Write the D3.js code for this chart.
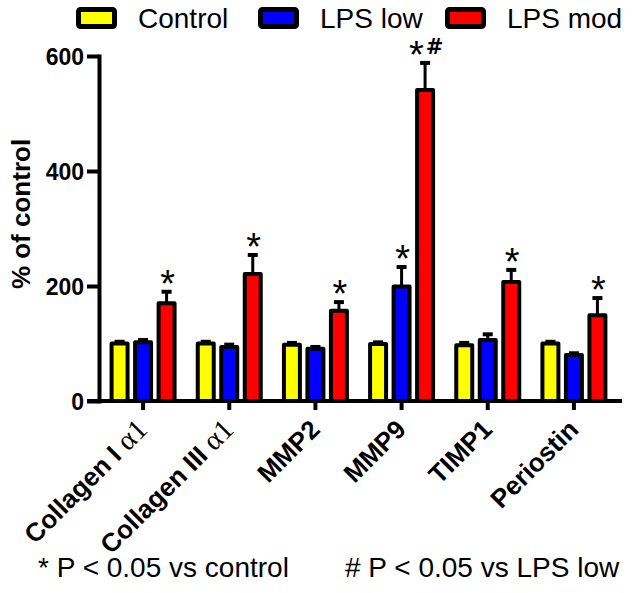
<!DOCTYPE html>
<html>
<head>
<meta charset="utf-8">
<script src="https://cdnjs.cloudflare.com/ajax/libs/d3/7.8.5/d3.min.js"></script>
<style>
  html, body { margin: 0; padding: 0; background: #fff; }
  svg { display: block; }
</style>
</head>
<body>
<svg id="chart" width="633" height="593"></svg>
<script>
// ---- data ----
const categories = ["Collagen I α1", "Collagen III α1", "MMP2", "MMP9", "TIMP1", "Periostin"];
const seriesNames = ["Control", "LPS low", "LPS mod"];
const seriesColors = ["#ffff00", "#0000ff", "#ff0000"];
const controlValues = [100, 100, 98, 99, 97, 100];
const controlErrors = [3, 3, 3, 3, 4, 3];
const lpsLowValues = [102, 94, 91, 199, 106, 80];
const lpsLowErrors = [4, 4, 3, 34, 10, 3];
const lpsModValues = [170, 221, 157, 541, 207, 149];
const lpsModErrors = [20, 33, 15, 47, 21, 30];
const lpsLowSig = ["", "", "", "*", "", ""];
const lpsModSig = ["*", "*", "*", "*#", "*", "*"];
const yTicks = [0, 200, 400, 600];
const yTitle = "% of control";
const footnotes = ["* P < 0.05 vs control", "# P < 0.05 vs LPS low"];

const seriesValues = [controlValues, lpsLowValues, lpsModValues];
const seriesErrors = [controlErrors, lpsLowErrors, lpsModErrors];
const seriesSig = [categories.map(() => ""), lpsLowSig, lpsModSig];

const rows = [];
categories.forEach((c, i) => {
  seriesNames.forEach((s, j) => {
    rows.push({cat: c, series: s, color: seriesColors[j],
               value: seriesValues[j][i], err: seriesErrors[j][i], sig: seriesSig[j][i]});
  });
});

// ---- layout ----
const svg = d3.select("#chart");
const axisX = 99;
const y = d3.scaleLinear().domain([0, 600]).range([401, 56]);
const x0 = d3.scaleBand().domain(categories).range([100, 617]).padding(0);
const x1 = d3.scaleBand().domain(seriesNames).range([-35.25, 35.25]).paddingInner(0.32).paddingOuter(0.16);
const cx = d => x0(d.cat) + x0.bandwidth() / 2 + x1(d.series) + x1.bandwidth() / 2;

// bars
svg.append("g").selectAll("rect").data(rows).join("rect")
  .attr("x", d => cx(d) - x1.bandwidth() / 2)
  .attr("width", x1.bandwidth())
  .attr("y", d => y(d.value))
  .attr("height", d => y(0) - y(d.value))
  .attr("fill", d => d.color)
  .attr("stroke", "#000")
  .attr("stroke-width", 4)
  .attr("stroke-linejoin", "round");

// error bars
const eg = svg.append("g");
eg.selectAll("line.stem").data(rows).join("line").attr("class", "stem")
  .attr("x1", cx).attr("x2", cx)
  .attr("y1", d => y(d.value)).attr("y2", d => y(d.value + d.err))
  .attr("stroke", "#000").attr("stroke-width", 3);
eg.selectAll("line.cap").data(rows).join("line").attr("class", "cap")
  .attr("x1", d => cx(d) - 5).attr("x2", d => cx(d) + 5)
  .attr("y1", d => y(d.value + d.err)).attr("y2", d => y(d.value + d.err))
  .attr("stroke", "#000").attr("stroke-width", 4);

// significance marks
const sg = svg.append("g").selectAll("text").data(rows.filter(d => d.sig)).join("text")
  .attr("x", d => cx(d) + 1)
  .attr("y", d => y(d.value + d.err) + 5)
  .attr("text-anchor", "middle");
sg.each(function(d) {
  const t = d3.select(this);
  let first = true;
  for (const ch of d.sig) {
    const ts = t.append("tspan").text(ch);
    if (ch === "*") {
      ts.attr("font-family", "Liberation Sans, Arial, sans-serif").attr("font-size", 38);
      if (!first) ts.attr("dy", 14);
    } else {
      ts.attr("font-family", "DejaVu Sans, sans-serif").attr("font-weight", "bold")
        .attr("font-size", 21).attr("dy", -14).attr("dx", 2);
    }
    first = false;
  }
});

// y axis
const yAxis = svg.append("g").attr("transform", `translate(${axisX},0)`)
  .call(d3.axisLeft(y).tickValues(yTicks).tickSize(12).tickSizeOuter(0).tickPadding(3));
yAxis.select(".domain").attr("stroke", "#000").attr("stroke-width", 4).attr("stroke-linecap", "square");
yAxis.selectAll(".tick line").attr("stroke", "#000").attr("stroke-width", 4);
yAxis.selectAll(".tick text")
  .attr("font-family", "Liberation Sans, Arial, sans-serif")
  .attr("font-weight", "bold").attr("font-size", 23).attr("fill", "#000")
  .attr("dy", "0.36em");

// x axis
const xAxis = svg.append("g").attr("transform", `translate(0,${y(0)})`)
  .call(d3.axisBottom(x0).tickSize(9).tickSizeOuter(0).tickFormat(""));
xAxis.select(".domain").remove();
xAxis.append("line").attr("x1", axisX - 12).attr("x2", 622).attr("y1", 0).attr("y2", 0)
  .attr("stroke", "#000").attr("stroke-width", 4);
xAxis.selectAll(".tick line").attr("stroke", "#000").attr("stroke-width", 4);

// x labels (rotated)
const lab = svg.append("g").selectAll("text").data(categories).join("text")
  .attr("transform", d => `translate(${x0(d) + x0.bandwidth() / 2 + 6},${y(0) + 30}) rotate(-45)`)
  .attr("text-anchor", "end")
  .attr("font-family", "Liberation Sans, Arial, sans-serif")
  .attr("font-weight", "bold").attr("font-size", 26);
lab.each(function(d) {
  const parts = d.split(/(α1)/).filter(p => p.length);
  const t = d3.select(this);
  parts.forEach(p => {
    const ts = t.append("tspan").text(p);
    if (p === "α1") ts.attr("font-family", "Liberation Serif, Times New Roman, serif").attr("font-weight", "normal").attr("font-size", 29);
  });
});

// y title
svg.append("text")
  .attr("transform", "translate(30,214) rotate(-90)")
  .attr("text-anchor", "middle")
  .attr("font-family", "Liberation Sans, Arial, sans-serif")
  .attr("font-weight", "bold").attr("font-size", 26)
  .text(yTitle);

// legend
const legendX = [78.5, 260.5, 447.5];
const lg = svg.append("g").selectAll("g").data(seriesNames).join("g")
  .attr("transform", (d, i) => `translate(${legendX[i]},9.5)`);
lg.append("rect").attr("width", 36).attr("height", 17).attr("rx", 2)
  .attr("fill", (d, i) => seriesColors[i]).attr("stroke", "#000").attr("stroke-width", 5);
lg.append("text").attr("x", 59.5).attr("y", 18.5)
  .attr("font-family", "Liberation Sans, Arial, sans-serif").attr("font-size", 28)
  .text(d => d);

// footnotes
svg.append("g").selectAll("text").data(footnotes).join("text")
  .attr("x", (d, i) => [38, 345][i]).attr("y", 577)
  .attr("font-family", "Liberation Sans, Arial, sans-serif").attr("font-size", 28)
  .text(d => d);
</script>
</body>
</html>
